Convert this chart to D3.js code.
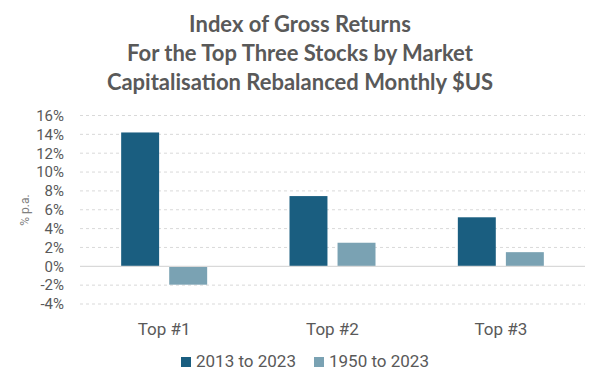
<!DOCTYPE html>
<html>
<head>
<meta charset="utf-8">
<script src="https://cdn.jsdelivr.net/npm/d3@7"></script>
<style>
  body { margin: 0; background: #fff; }
  text { font-family: Roboto, "Liberation Sans", sans-serif; }
</style>
</head>
<body>
<svg width="600" height="386"></svg>
<script>
var categories = ["Top #1", "Top #2", "Top #3"];
var seriesNames = ["2013 to 2023", "1950 to 2023"];
var recent = [14.2, 7.45, 5.2];
var longRun = [-1.95, 2.5, 1.5];
var yTicks = [-4, -2, 0, 2, 4, 6, 8, 10, 12, 14, 16];
var colors = ["#1a5e80", "#7aa2b3"];

var svg = d3.select("svg"),
    margin = { top: 115.5, right: 15, bottom: 82, left: 80 },
    width = 600 - margin.left - margin.right,
    height = 386 - margin.top - margin.bottom;

var data = categories.map(function(c, i) {
    return { cat: c, values: [recent[i], longRun[i]] };
});

var x0 = d3.scaleBand().domain(categories).range([0, width]).paddingInner(0).paddingOuter(0);
var x1 = d3.scaleBand().domain([0, 1]).range([x0.bandwidth() / 2 - 43, x0.bandwidth() / 2 + 43]).paddingInner(0.21);
var yScale = d3.scaleLinear().domain([-4, 16]).range([height, 0]);

var g = svg.append("g")
    .attr("transform", "translate(" + margin.left + "," + margin.top + ")");

// Title
var titleLines = ["Index of Gross Returns", "For the Top Three Stocks by Market", "Capitalisation Rebalanced Monthly $US"];
svg.append("g").selectAll("text")
    .data(titleLines)
    .enter().append("text")
    .attr("x", 300)
    .attr("y", function(d, i) { return 32 + i * 29; })
    .attr("text-anchor", "middle")
    .style("font-family", "Lato, 'Open Sans', sans-serif")
    .style("font-weight", "bold")
    .style("font-size", "22px")
    .style("fill", "#595959")
    .text(function(d) { return d; });

// Gridlines
g.selectAll(".grid")
    .data(yTicks.filter(function(t) { return t !== 0; }))
    .enter().append("line")
    .attr("x1", 0).attr("x2", width)
    .attr("y1", function(d) { return yScale(d); })
    .attr("y2", function(d) { return yScale(d); })
    .attr("stroke", "#d9d9d9")
    .attr("stroke-dasharray", "3,3");

// Y axis labels
g.append("g")
    .call(d3.axisLeft(yScale).tickValues(yTicks).tickSize(0).tickPadding(16)
        .tickFormat(function(d) { return d + "%"; }))
    .call(function(a) { a.select(".domain").remove(); })
    .selectAll("text")
    .style("font-size", "15px")
    .style("fill", "#595959");

// Bars
g.selectAll(".group")
    .data(data)
    .enter().append("g")
    .attr("transform", function(d) { return "translate(" + x0(d.cat) + ",0)"; })
    .selectAll("rect")
    .data(function(d) { return d.values; })
    .enter().append("rect")
    .attr("x", function(d, i) { return x1(i); })
    .attr("width", x1.bandwidth())
    .attr("y", function(d) { return yScale(Math.max(0, d)); })
    .attr("height", function(d) { return Math.abs(yScale(d) - yScale(0)); })
    .attr("fill", function(d, i) { return colors[i]; });

// Zero line
g.append("line")
    .attr("x1", 0).attr("x2", width)
    .attr("y1", yScale(0)).attr("y2", yScale(0))
    .attr("stroke", "#d9d9d9")
    .attr("stroke-width", 1.2);

// X axis labels
g.append("g")
    .attr("transform", "translate(0," + height + ")")
    .call(d3.axisBottom(x0).tickSize(0).tickPadding(19))
    .call(function(a) { a.select(".domain").remove(); })
    .selectAll("text")
    .style("font-size", "17px")
    .style("fill", "#595959");

// Y axis title
svg.append("text")
    .attr("transform", "rotate(-90)")
    .attr("x", -210)
    .attr("y", 29)
    .attr("text-anchor", "middle")
    .style("font-size", "12px")
    .style("fill", "#7f7f7f")
    .text("% p.a.");

// Legend
var legend = svg.append("g").selectAll("g")
    .data(seriesNames)
    .enter().append("g")
    .attr("transform", function(d, i) { return "translate(" + (181 + i * 133) + ",367)"; });
legend.append("rect")
    .attr("x", 0).attr("y", -10)
    .attr("width", 10).attr("height", 10)
    .attr("fill", function(d, i) { return colors[i]; });
legend.append("text")
    .attr("x", 15).attr("y", 0)
    .style("font-size", "17px")
    .style("fill", "#595959")
    .text(function(d) { return d; });
</script>
</body>
</html>
